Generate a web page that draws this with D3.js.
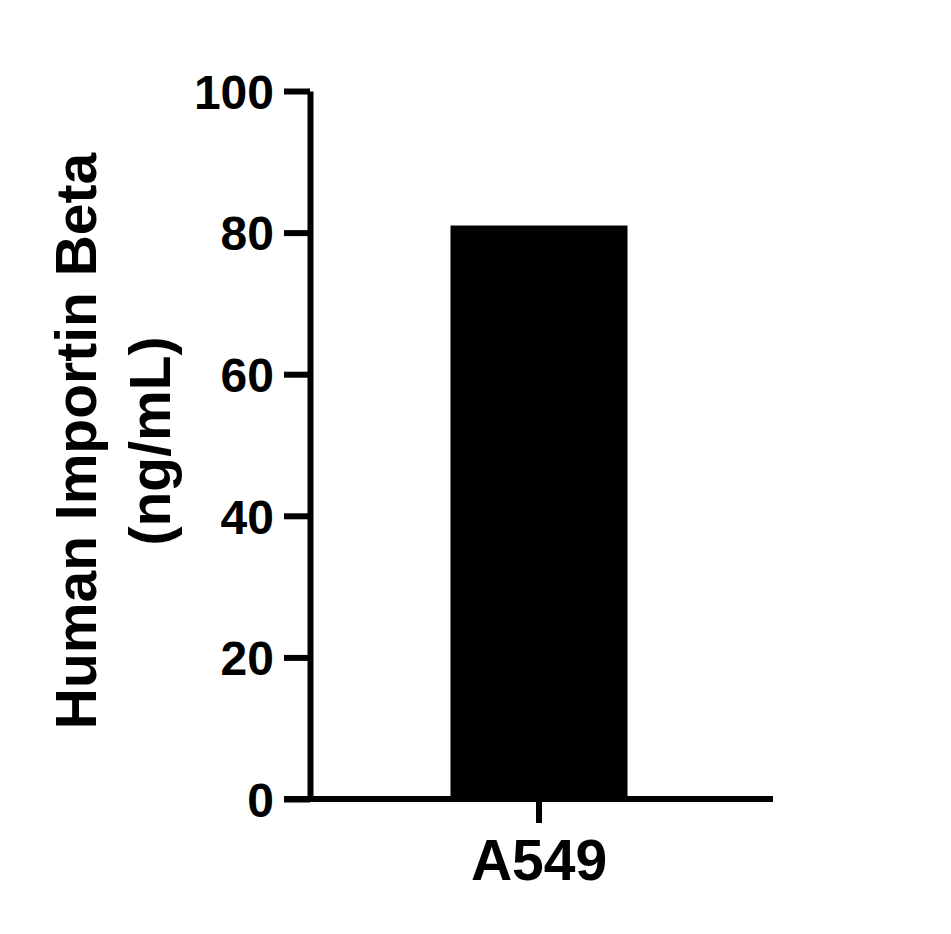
<!DOCTYPE html>
<html>
<head>
<meta charset="utf-8">
<script src="https://cdn.jsdelivr.net/npm/d3@7"></script>
<style>
  body { margin: 0; background: #fff; }
  text { font-family: "Liberation Sans", Arial, sans-serif; font-weight: bold; fill: #000; }
</style>
</head>
<body>
<svg id="chart"></svg>
<script>
const categories = ["A549"];
const values = [81];
const yTicks = [0, 20, 40, 60, 80, 100];

const width = 951;
const height = 934;
const plotLeft = 310, plotRight = 773, plotTop = 91, plotBottom = 799;

const svg = d3.select("#chart")
  .attr("width", width)
  .attr("height", height);

const y = d3.scaleLinear()
  .domain([0, 100])
  .range([plotBottom, plotTop]);

const x = d3.scaleBand()
  .domain(categories)
  .range([plotLeft, 768])
  .padding(0.4425);

// bars
svg.selectAll(".bar")
  .data(values)
  .enter().append("rect")
  .attr("class", "bar")
  .attr("x", (d, i) => x(categories[i]))
  .attr("width", x.bandwidth())
  .attr("y", (d) => y(d))
  .attr("height", (d) => y(0) - y(d))
  .attr("fill", "#000");

// y axis
const yAxis = svg.append("g")
  .attr("transform", `translate(${plotLeft},0)`)
  .call(d3.axisLeft(y).tickValues(yTicks).tickSize(26).tickPadding(10).tickSizeOuter(0));
yAxis.select(".domain").attr("stroke-width", 6).attr("stroke", "#000");
yAxis.selectAll(".tick line").attr("stroke-width", 6).attr("stroke", "#000");
yAxis.selectAll(".tick text")
  .style("font-size", "48px")
  .attr("dy", "0.36em");

// x axis
const xAxis = svg.append("g")
  .attr("transform", `translate(0,${plotBottom})`)
  .call(d3.axisBottom(x).tickSize(24).tickPadding(14).tickSizeOuter(0));
xAxis.select(".domain").remove();
xAxis.append("line")
  .attr("x1", plotLeft - 26).attr("x2", plotRight)
  .attr("stroke", "#000").attr("stroke-width", 6);
xAxis.selectAll(".tick line").attr("stroke-width", 6).attr("stroke", "#000");
xAxis.selectAll(".tick text")
  .style("font-size", "57px")
  .attr("dy", "0.75em");

// y axis title
const midY = (plotTop + plotBottom) / 2;
const title = svg.append("text")
  .attr("transform", `translate(96,${midY - 4}) rotate(-90)`)
  .attr("text-anchor", "middle")
  .style("font-size", "57px");
title.append("tspan").attr("x", 0).attr("dy", 0).text("Human Importin Beta");
title.append("tspan").attr("x", 0).attr("dy", "1.3em").text("(ng/mL)");
</script>
</body>
</html>
